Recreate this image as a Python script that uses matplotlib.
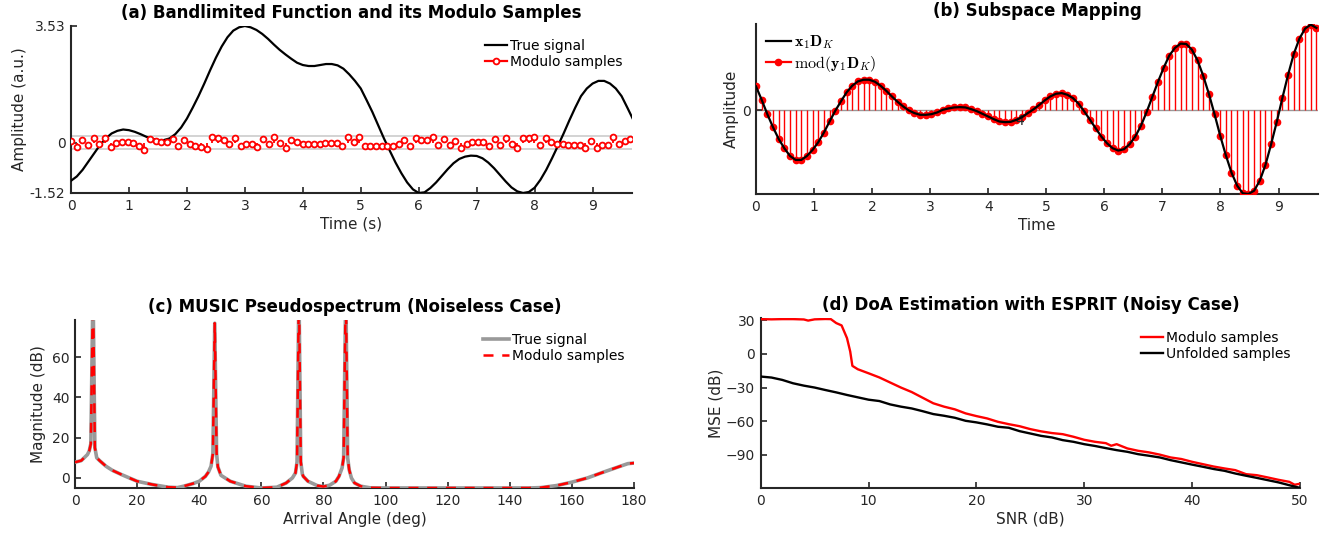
import numpy as np
import matplotlib
matplotlib.use("Agg")
import matplotlib.pyplot as plt
from matplotlib.lines import Line2D
from matplotlib.legend_handler import HandlerLine2D

# ---------------- data ----------------
# (a) true bandlimited signal, read at 0.1 s steps
t_true = [round(0.1 * i, 1) for i in range(98)]
x_true = [-1.15, -1.02, -0.82, -0.57, -0.32, -0.07, 0.13, 0.28, 0.36, 0.40,
          0.38, 0.33, 0.26, 0.18, 0.12, 0.08, 0.08, 0.13, 0.26, 0.46,
          0.73, 1.06, 1.41, 1.79, 2.19, 2.57, 2.91, 3.19, 3.39, 3.49,
          3.53, 3.49, 3.41, 3.29, 3.14, 2.97, 2.81, 2.67, 2.54, 2.42,
          2.35, 2.32, 2.32, 2.35, 2.38, 2.38, 2.34, 2.24, 2.07, 1.87,
          1.64, 1.29, 0.93, 0.53, 0.13, -0.24, -0.60, -0.92, -1.20, -1.41,
          -1.52, -1.50, -1.37, -1.20, -1.00, -0.80, -0.62, -0.49, -0.42, -0.39,
          -0.40, -0.47, -0.60, -0.77, -0.97, -1.17, -1.35, -1.47, -1.52, -1.49,
          -1.36, -1.12, -0.82, -0.47, -0.10, 0.28, 0.68, 1.06, 1.41, 1.64,
          1.79, 1.87, 1.87, 1.79, 1.64, 1.41, 1.06, 0.70]
# (a) modulo samples (100 samples)
Ts = 0.0975
mod_samples = [0.06, -0.13, 0.08, -0.08, 0.13, -0.05, 0.13, -0.13, -0.01, 0.01,
               0.01, 0.0, -0.10, -0.21, 0.10, 0.06, 0.03, 0.03, 0.11, -0.11,
               0.08, -0.03, -0.11, -0.13, -0.19, 0.18, 0.14, 0.08, -0.05, 0.14,
               -0.11, -0.05, -0.05, -0.13, 0.10, -0.03, 0.16, 0.0, -0.15, 0.08,
               0.01, -0.03, -0.05, -0.05, -0.03, -0.01, 0.0, 0.0, -0.09,
               0.18, 0.01, 0.18, -0.09, -0.09, -0.09, -0.09, -0.09, -0.09, -0.03,
               0.08, -0.11, 0.13, 0.08, 0.08, 0.18, -0.08, 0.10, -0.08, 0.06,
               -0.15, -0.03, 0.01, 0.03, 0.01, -0.11, 0.10, -0.08, 0.13, -0.03,
               -0.15, 0.14, 0.14, 0.18, -0.08, 0.13, 0.01, -0.03, -0.05, -0.06,
               -0.08, -0.08, -0.15, 0.06, -0.15, -0.08, -0.08, 0.16, -0.05, 0.06,
               0.10]
lam = 0.2
a_yticks = [-1.52, 0, 3.53]
a_ylim = [-1.52, 3.53]
t_end = 9.68

# (b) subspace mapping (normalised amplitude)
sub_vals = [0.288, 0.128, -0.044, -0.20, -0.34, -0.452, -0.544, -0.592, -0.592, -0.544,
            -0.472, -0.38, -0.264, -0.132, -0.004, 0.108, 0.216, 0.296, 0.348, 0.368,
            0.368, 0.344, 0.296, 0.236, 0.168, 0.104, 0.048, 0.0, -0.032, -0.052,
            -0.052, -0.044, -0.024, 0.008, 0.024, 0.036, 0.04, 0.036, 0.016, -0.008,
            -0.04, -0.072, -0.104, -0.132, -0.14, -0.136, -0.112, -0.08, -0.032, 0.012,
            0.064, 0.12, 0.168, 0.20, 0.208, 0.188, 0.148, 0.08, -0.012, -0.112,
            -0.212, -0.312, -0.392, -0.452, -0.48, -0.464, -0.404, -0.312, -0.184, -0.02,
            0.16, 0.34, 0.508, 0.656, 0.748, 0.80, 0.796, 0.728, 0.60, 0.416,
            0.20, -0.044, -0.30, -0.536, -0.744, -0.90, -0.992, -1.0, -0.96, -0.84,
            -0.652, -0.404, -0.136, 0.152, 0.428, 0.676, 0.86, 0.98, 1.028, 0.988]

# (c) MUSIC pseudospectrum
music_angle = [0, 2, 4, 4.6, 5.1, 5.8, 6.4, 7, 8, 10, 12, 15, 20, 25, 30, 33, 35, 38, 40,
               42, 43, 43.8, 44.4, 45.0, 45.6, 46.0, 47, 50, 55, 60, 65, 68, 70,
               71.0, 71.5, 72.1, 72.7, 73.2, 73.5, 75, 78, 80, 82, 84, 85,
               86.0, 86.5, 87.2, 87.8, 88.3, 89, 90, 92, 95, 100, 110, 120, 130, 140,
               146, 150, 155, 160, 165, 170, 175, 178, 180]
music_db = [7.8, 8.6, 11.6, 13.5, 17, 95, 15, 10.0, 8.5, 5.8, 3.8, 1.65, -1.65, -3.3, -4.6,
            -4.8, -4.1, -2.8, -1.65, 0.8, 3.0, 5.8, 12, 76.9, 12, 5.5, 1.3, -1.65, -4.1,
            -5.0, -4.6, -2.5, 0.0, 2.5, 8, 95, 8, 2.0, 0.8, -1.65, -3.8, -4.3, -3.6,
            -1.65, 0.8, 5, 10, 95, 10, 4, 0.0, -2.5, -4.1, -4.9, -5.0, -5.0, -5.0,
            -5.0, -5.0, -5.0, -4.8, -3.8, -2.1, 0.0, 2.8, 5.5, 7.1, 7.4]

# (d) ESPRIT MSE vs SNR
snr = [0, 1, 2, 3, 4, 4.4, 5, 6, 6.5, 7, 7.5, 8, 8.3, 8.5, 9, 10, 11, 12, 13, 14, 15,
       16, 17, 18, 19, 20, 21, 22, 23, 24, 25, 26, 27, 28, 29, 30, 31, 32, 32.5, 33,
       34, 35, 36, 37, 38, 39, 40, 41, 42, 43, 44, 45, 46, 47, 48, 49, 49.5, 50]
mse_mod = [30.9, 30.7, 30.9, 30.9, 30.6, 29.6, 30.7, 31.0, 30.9, 27.4, 25.3, 14, 2,
           -10.7, -13.7, -17.3, -21, -25.5, -30, -34, -39, -44, -47, -49.4, -53, -55.4,
           -57.5, -60.5, -62.6, -64.4, -67.0, -69.0, -70.5, -71.5, -73.8, -76.5, -78.3,
           -79.5, -81.8, -80.4, -84.2, -86.3, -87.7, -89.7, -92.2, -93.6, -96.1, -98.2,
           -100.3, -102.0, -103.5, -107.1, -108.0, -110.0, -112.1, -113.9, -116.5, -115.6]
snr_unf = [0, 1, 2, 3, 4, 5, 6, 7, 8, 9, 10, 11, 12, 13, 14, 15, 16, 17, 18, 19, 20,
           21, 22, 23, 24, 25, 26, 27, 28, 29, 30, 31, 32, 33, 34, 35, 36, 37, 38, 39,
           40, 41, 42, 43, 44, 45, 46, 47, 48, 49, 50]
mse_unf = [-20.2, -21.1, -23.2, -26.2, -28.3, -30, -32.2, -34.3, -36.6, -38.7, -40.8,
           -42, -45, -47, -48.6, -51, -53.6, -55.1, -56.9, -59.6, -61, -62.8, -64.9,
           -65.8, -68.8, -70.9, -73, -74.4, -76.8, -78.3, -80.4, -82.0, -83.9, -85.7,
           -87.2, -89.3, -90.7, -92.2, -94.6, -96.6, -98.6, -100.5, -102.5, -104.1,
           -106.5, -108.5, -110.4, -112.4, -114.4, -116.9, -119.3]

# ---------------- style ----------------
plt.rcParams['font.family'] = ['DejaVu Sans']
plt.rcParams['mathtext.fontset'] = 'cm'
AX = (0.15, 0.15, 0.15)
RED = (1.0, 0.0, 0.0)


class RightMarker(HandlerLine2D):
    def get_xdata(self, legend, xdescent, ydescent, width, height, fontsize):
        xdata = np.array([-xdescent, -xdescent + width])
        return xdata, np.array([-xdescent + width])


def style(ax):
    for s in ['top', 'right']:
        ax.spines[s].set_visible(False)
    for s in ['left', 'bottom']:
        ax.spines[s].set_color(AX)
        ax.spines[s].set_linewidth(1.5)
    ax.tick_params(direction='in', length=4, width=1.2, colors=AX,
                   labelsize=10, labelcolor=AX, pad=4)


fig = plt.figure(figsize=(13.32, 5.35), dpi=100)
W, H = 1332.0, 535.0


def add_ax(l, r, t, b):
    return fig.add_axes([l / W, 1 - b / H, (r - l) / W, (b - t) / H])


# ---------------- (a) ----------------
ax = add_ax(71, 632, 26, 193)
style(ax)
ts = np.arange(len(mod_samples)) * Ts
ax.axhline(lam, color=(0.8, 0.8, 0.8), lw=1.2, zorder=1)
ax.axhline(-lam, color=(0.8, 0.8, 0.8), lw=1.2, zorder=1)
ax.plot(t_true, x_true, color='k', lw=1.6, zorder=3)
ax.vlines(ts, 0, mod_samples, color=RED, lw=1.3, zorder=4)
ax.plot(ts, mod_samples, 'o', ms=4.2, mfc='white', mec=RED, mew=1.3, zorder=5)
ax.set_xlim(0, t_end)
ax.set_ylim(*a_ylim)
ax.set_yticks(a_yticks)
ax.set_yticklabels(['-1.52', '0', '3.53'])
ax.set_xticks(range(10))
ax.set_xlabel('Time (s)', fontsize=11, color=AX, labelpad=3)
ax.set_ylabel('Amplitude (a.u.)', fontsize=11, color=AX, labelpad=2)
ax.set_title('(a) Bandlimited Function and its Modulo Samples', fontsize=12,
             fontweight='bold', pad=6)
h1 = Line2D([], [], color='k', lw=1.6)
h2 = Line2D([], [], color=RED, lw=1.6, marker='o', ms=4.2, mfc='white', mec=RED, mew=1.3)
ax.legend([h1, h2], ['True signal', 'Modulo samples'], loc='upper right',
          frameon=False, fontsize=10, handlelength=1.6, handletextpad=0.2,
          labelspacing=0.15, borderaxespad=0.3, bbox_to_anchor=(1.0, 0.98),
          handler_map={h2: RightMarker()})

# ---------------- (b) ----------------
ax = add_ax(756, 1318, 24, 194)
style(ax)
tb = np.arange(len(sub_vals)) * Ts
ax.axhline(0, color=(0.6, 0.6, 0.6), lw=1.0, zorder=1)
ax.vlines(tb, 0, sub_vals, color=RED, lw=1.0, zorder=2)
ax.plot(tb, sub_vals, 'o', ms=4.5, mfc=RED, mec=RED, mew=1.0, zorder=3)
ax.plot(tb, sub_vals, color='k', lw=1.6, zorder=4)
ax.set_xlim(0, t_end)
ax.set_ylim(-1.0, 1.035)
ax.set_yticks([0])
ax.set_xticks(range(10))
ax.text(4.55, -0.13, '4', fontsize=10, color=AX, ha='center', va='center')
ax.set_xlabel('Time', fontsize=11, color=AX, labelpad=3)
ax.set_ylabel('Amplitude', fontsize=11, color=AX, labelpad=2)
ax.set_title('(b) Subspace Mapping', fontsize=12, fontweight='bold', pad=6)
h1 = Line2D([], [], color='k', lw=1.6)
h2 = Line2D([], [], color=RED, lw=1.6, marker='o', ms=4.5, mfc=RED, mec=RED)
ax.legend([h1, h2], [r'$\mathbf{x}_1\mathbf{D}_K$', r'$\mathrm{mod}(\mathbf{y}_1\mathbf{D}_K)$'],
          loc='upper left', frameon=False, fontsize=11.5, handlelength=1.6,
          handletextpad=0.2, labelspacing=0.15, borderaxespad=0.2,
          bbox_to_anchor=(0.0, 1.0), handler_map={h2: RightMarker()})

# ---------------- (c) ----------------
ax = add_ax(75, 634, 320, 488)
style(ax)
ax.plot(music_angle, music_db, color=(0.6, 0.6, 0.6), lw=2.6, label='True signal', zorder=3)
ax.plot(music_angle, music_db, color=RED, lw=1.8, ls=(0, (4, 3.5)), label='Modulo samples',
        zorder=4)
ax.set_xlim(0, 180)
ax.set_ylim(-5.0, 78.5)
ax.set_xticks(range(0, 181, 20))
ax.set_yticks([0, 20, 40, 60])
ax.set_xlabel('Arrival Angle (deg)', fontsize=11, color=AX, labelpad=3)
ax.set_ylabel('Magnitude (dB)', fontsize=11, color=AX, labelpad=4)
ax.set_title('(c) MUSIC Pseudospectrum (Noiseless Case)', fontsize=12,
             fontweight='bold', pad=6)
ax.legend(loc='upper right', frameon=False, fontsize=10, handlelength=1.9,
          handletextpad=0.2, labelspacing=0.15, borderaxespad=0.3,
          bbox_to_anchor=(1.0, 0.98))

# ---------------- (d) ----------------
ax = add_ax(760.7, 1300, 318, 488)
style(ax)
ax.plot(snr, mse_mod, color=RED, lw=1.7, label='Modulo samples', zorder=3)
ax.plot(snr_unf, mse_unf, color='k', lw=1.7, label='Unfolded samples', zorder=3)
ax.set_xlim(0, 50)
ax.set_ylim(-119.4, 31.9)
ax.set_xticks(range(0, 51, 10))
ax.set_yticks([30, 0, -30, -60, -90])
ax.set_xlabel('SNR (dB)', fontsize=11, color=AX, labelpad=3)
ax.set_ylabel('MSE (dB)', fontsize=11, color=AX, labelpad=2)
ax.set_title('(d) DoA Estimation with ESPRIT (Noisy Case)', fontsize=12,
             fontweight='bold', pad=6)
ax.legend(loc='upper right', frameon=False, fontsize=10, handlelength=1.6,
          handletextpad=0.2, labelspacing=0.15, borderaxespad=0.3,
          bbox_to_anchor=(1.0, 0.98))

fig.savefig('out.png', dpi=100, facecolor='white')
